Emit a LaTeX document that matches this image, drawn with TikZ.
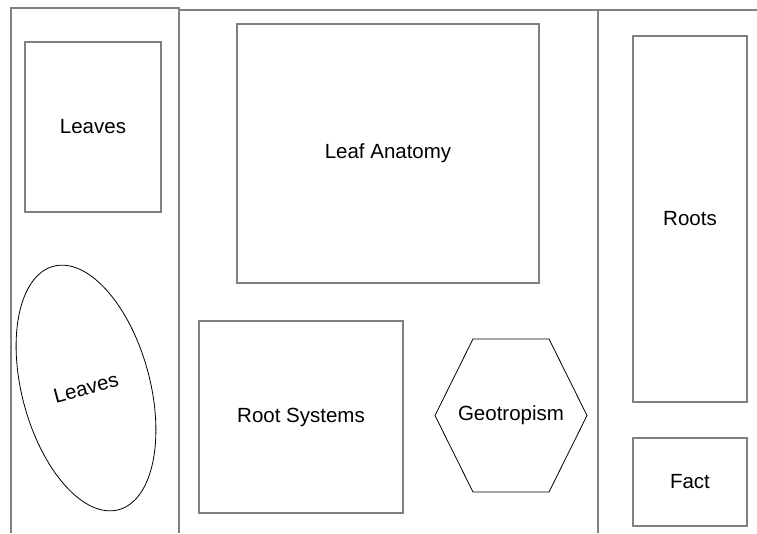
\documentclass[tikz,border=0pt]{standalone}
\usepackage{fontspec}
\setmainfont{Liberation Sans}
\usetikzlibrary{shapes.geometric, positioning}

\begin{document}
\begin{tikzpicture}[
	x=1pt, y=-1pt,
	every node/.style = {font=\fontsize{20.5}{24}\selectfont, inner sep=0pt},
	box/.style = {draw=gray, line width=1.4pt, align=center},
	lane/.style = {draw=gray, line width=1.4pt},
	oval/.style = {draw=black, line width=0.8pt, ellipse},
	hexa/.style = {draw=black, line width=0.8pt, line join=miter}
     ]
		\useasboundingbox (0,0) rectangle (757,533);
%
		\draw[lane] (11,533) |- (179,8) -- (179,533);
		\draw[lane] (179,10) -- (757,10);
		\draw[lane] (598,10) -- (598,533);
%
		\node (leaves) [box, minimum width=136pt, minimum height=170pt] at (93,127) {Leaves};
		\node (ovleaves) [oval, minimum width=128pt, minimum height=252pt, rotate=15] at (86,388) {Leaves};
%
		\node (anatomy) [box, minimum width=302pt, minimum height=259pt] at (388,153.5) {Leaf Anatomy};
		\node (rootsys) [box, minimum width=204pt, minimum height=192pt] at (301,417) {Root Systems};
		\node (geotrop) at (511,415.5) {Geotropism};
		\draw[hexa] (geotrop.center) ++(-76,0) -- ++(38,-76.5) -- ++(76,0)
			-- ++(38,76.5) -- ++(-38,76.5) -- ++(-76,0) -- cycle;
%
		\node (roots) [box, minimum width=114pt, minimum height=366pt] at (690,219) {Roots};
		\node (fact) [box, minimum width=114pt, minimum height=88pt] at (690,482) {Fact};
\end{tikzpicture}
\end{document}
